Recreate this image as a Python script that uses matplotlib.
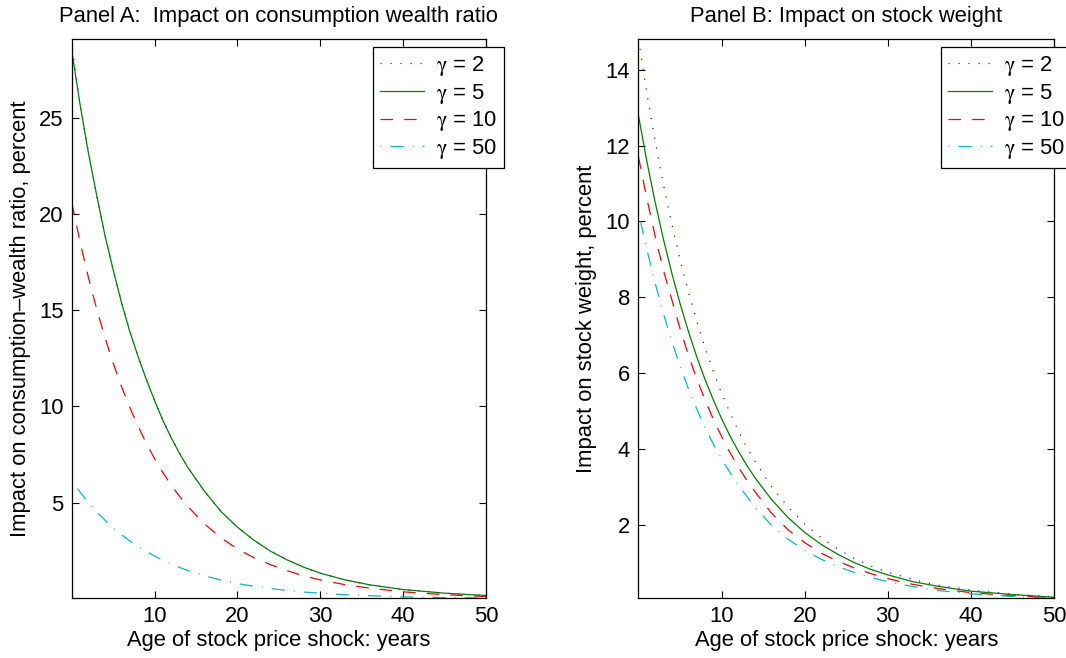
import matplotlib
matplotlib.use('Agg')
import matplotlib.pyplot as plt

plt.rcParams['font.family'] = ['Liberation Sans', 'DejaVu Sans']
plt.rcParams['font.size'] = 15.8
plt.rcParams['lines.scale_dashes'] = False
plt.rcParams['mathtext.fontset'] = 'custom'
plt.rcParams['mathtext.rm'] = 'STIXGeneral'

# age of stock price shock, years
years = [0, 1, 2, 3, 4, 5, 6, 7, 8, 9, 10, 11, 12, 13, 14,
         16, 18, 20, 22, 24, 26, 28, 30, 33, 36, 40, 45, 50]
years_g2_a = [0, 0.25] + years[1:]

labels = [r'$\mathrm{\gamma}$ = 2', r'$\mathrm{\gamma}$ = 5',
          r'$\mathrm{\gamma}$ = 10', r'$\mathrm{\gamma}$ = 50']

# Panel A: impact on consumption-wealth ratio, percent
cw_g2 = [29.1, 28.0, 25.75, 23.25, 21.0, 18.95, 17.1, 15.45, 13.95, 12.6, 11.4,
         10.3, 9.28, 8.38, 7.57, 6.84, 5.58, 4.55, 3.72, 3.04, 2.47, 2.02,
         1.64, 1.33, 0.98, 0.72, 0.48, 0.29, 0.17]
cw_g5 = [28.5, 25.7, 23.2, 21.0, 18.9, 17.1, 15.4, 13.9, 12.6, 11.4, 10.3,
         9.27, 8.37, 7.56, 6.83, 5.6, 4.54, 3.72, 3.04, 2.47, 2.02, 1.64,
         1.33, 0.98, 0.72, 0.48, 0.29, 0.17]
cw_g10 = [20.6, 18.56, 16.73, 15.08, 13.59, 12.25, 11.04, 9.95, 8.97, 8.08,
          7.28, 6.56, 5.91, 5.33, 4.80, 3.90, 3.17, 2.59, 2.13, 1.77, 1.46,
          1.19, 0.98, 0.73, 0.55, 0.36, 0.21, 0.12]
cw_g50 = [6.15, 5.55, 5.01, 4.53, 4.09, 3.69, 3.33, 3.01, 2.72, 2.46, 2.22,
          2.0, 1.81, 1.63, 1.47, 1.20, 0.97, 0.79, 0.65, 0.53, 0.43, 0.35,
          0.29, 0.21, 0.16, 0.10, 0.06, 0.04]

# Panel B: impact on stock weight, percent
sw_g2 = [14.81, 13.40, 12.13, 10.98, 9.94, 9.00, 8.15, 7.38, 6.68, 6.05, 5.47,
         4.96, 4.49, 4.06, 3.68, 3.01, 2.47, 2.02, 1.66, 1.36, 1.11, 0.91,
         0.75, 0.56, 0.41, 0.28, 0.17, 0.10]
sw_g5 = [12.8, 11.60, 10.52, 9.54, 8.65, 7.84, 7.11, 6.44, 5.84, 5.30, 4.80,
         4.35, 3.95, 3.58, 3.25, 2.67, 2.19, 1.80, 1.48, 1.22, 1.00, 0.82,
         0.68, 0.50, 0.38, 0.25, 0.16, 0.09]
sw_g10 = [11.71, 10.62, 9.62, 8.72, 7.95, 7.18, 6.48, 5.86, 5.30, 4.79, 4.33,
          3.91, 3.53, 3.19, 2.88, 2.31, 1.87, 1.53, 1.25, 1.04, 0.86, 0.71,
          0.58, 0.43, 0.32, 0.21, 0.13, 0.08]
sw_g50 = [10.26, 9.27, 8.38, 7.58, 6.85, 6.19, 5.60, 5.06, 4.57, 4.13, 3.74,
          3.38, 3.05, 2.76, 2.47, 1.99, 1.62, 1.33, 1.09, 0.90, 0.74, 0.61,
          0.50, 0.37, 0.27, 0.18, 0.11, 0.07]

styles = [
    dict(color=(0, 0, 1), linestyle=(0, (0.8, 6.4))),
    dict(color=(0, 0.5, 0), linestyle='-'),
    dict(color=(1, 0, 0), linestyle=(0, (9, 8))),
    dict(color=(0, 0.75, 0.75), linestyle=(0, (0.7, 6.5, 9.5, 6.5))),
]

fig = plt.figure(figsize=(10.66, 6.58), dpi=100)
ax1 = fig.add_axes([0.0673, 0.0912, 0.3887, 0.8495])
ax2 = fig.add_axes([0.5989, 0.0912, 0.3899, 0.8495])


def draw(ax, xs, series, title, ylabel, yticks):
    for x, y, lab, st in zip(xs, series, labels, styles):
        ax.plot(x, y, label=lab, linewidth=0.9, **st)
    lo = min(min(s) for s in series)
    hi = max(max(s) for s in series)
    ax.set_xlim(0, 50)
    ax.set_ylim(lo, hi)
    ax.set_xticks([10, 20, 30, 40, 50])
    ax.set_yticks(yticks)
    ax.tick_params(direction='in', length=5, width=0.8, top=True, right=True, pad=6)
    for sp in ax.spines.values():
        sp.set_linewidth(0.9)
    ax.set_title(title, fontsize=15.8, pad=12)
    ax.set_xlabel('Age of stock price shock: years', labelpad=2)
    ax.set_ylabel(ylabel, labelpad=6)
    leg = ax.legend(loc='upper right', bbox_to_anchor=(1.043, 0.986), fancybox=False,
                    edgecolor='black', framealpha=1, borderpad=0.32, handlelength=2.0,
                    handletextpad=0.55, labelspacing=0.17, borderaxespad=0)
    leg.get_frame().set_linewidth(0.9)


draw(ax1, [years_g2_a, years, years, years], [cw_g2, cw_g5, cw_g10, cw_g50],
     'Panel A:  Impact on consumption wealth ratio',
     'Impact on consumption–wealth ratio, percent', [5, 10, 15, 20, 25])
draw(ax2, [years] * 4, [sw_g2, sw_g5, sw_g10, sw_g50],
     'Panel B: Impact on stock weight',
     'Impact on stock weight, percent', [2, 4, 6, 8, 10, 12, 14])

fig.savefig('out.png', dpi=100)
